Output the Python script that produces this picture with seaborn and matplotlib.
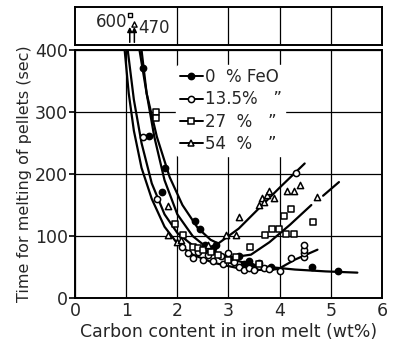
import numpy as np
import pandas as pd
import matplotlib
matplotlib.use("Agg")
import matplotlib.pyplot as plt
import seaborn as sns

# -------------------------------
# Data
# -------------------------------
feo_labels = ["0  % FeO", "13.5%   \u201d", "27  %   \u201d", "54  %   \u201d"]

# measured points (carbon wt%, melting time s)
c0_x = [1.33, 1.44, 1.70, 1.75, 2.35, 2.45, 2.55, 2.70, 2.75, 3.05, 3.20, 3.30, 3.40, 3.45, 3.55, 3.60, 3.83, 4.64, 5.15]
c0_y = [371, 262, 171, 210, 125, 112, 85, 80, 86, 62, 68, 55, 60, 52, 50, 56, 50, 50, 44]

c13_x = [1.33, 1.60, 2.10, 2.20, 2.30, 2.40, 2.50, 2.60, 2.70, 2.85, 2.90, 3.00, 3.10, 3.20, 3.30, 3.40, 3.50, 3.60, 3.70, 3.80, 4.01, 4.22, 4.48, 4.48, 4.48, 4.48, 4.32]
c13_y = [260, 160, 82, 72, 65, 75, 62, 70, 60, 68, 55, 72, 58, 50, 45, 48, 45, 52, 48, 47, 44, 64, 67, 72, 78, 86, 202]

c27_x = [1.58, 1.58, 1.96, 2.12, 2.30, 2.40, 2.50, 2.65, 2.79, 3.00, 3.15, 3.42, 3.71, 3.86, 3.99, 4.12, 4.28, 4.09, 4.22, 4.66, 3.60]
c27_y = [300, 290, 119, 101, 82, 80, 78, 75, 70, 62, 66, 82, 101, 112, 112, 103, 103, 132, 143, 122, 55]

c54_x = [1.81, 1.81, 1.99, 2.07, 2.60, 2.95, 3.14, 3.20, 3.60, 3.66, 3.70, 3.76, 3.79, 3.89, 4.14, 4.29, 4.39, 4.74]
c54_y = [149, 101, 90, 93, 85, 101, 101, 130, 150, 161, 155, 166, 173, 161, 172, 172, 183, 163]

# off-scale values shown in the top strip
off_x = [1.07, 1.16]
off_y = [600, 470]

# hand-drawn curves, read as points along each line
k0_x = [1.30, 1.40, 1.55, 1.75, 2.00, 2.30, 2.60, 3.00, 3.40, 3.80, 4.30, 4.90, 5.52]
k0_y = [400, 330, 260, 190, 135, 100, 80, 64, 55, 50, 46, 43, 41]

k13_x = [0.97, 1.05, 1.15, 1.30, 1.50, 1.75, 2.00, 2.30, 2.70, 3.20, 3.70, 4.00]
k13_y = [400, 330, 270, 210, 160, 115, 88, 70, 57, 48, 45, 47]
k13b_x = [4.00, 4.30, 4.74]
k13b_y = [48, 62, 78]

k27_x = [1.03, 1.15, 1.30, 1.50, 1.75, 2.00, 2.30, 2.70, 3.10, 3.44, 3.80, 4.20, 4.62]
k27_y = [400, 320, 250, 185, 135, 105, 85, 72, 66, 70, 90, 118, 150]
k27b_x = [4.85, 5.16]
k27b_y = [165, 187]

k54_x = [1.26, 1.40, 1.60, 1.85, 2.10, 2.40, 2.65, 2.80, 3.20, 3.60, 4.00, 4.49]
k54_y = [400, 330, 260, 195, 150, 113, 94, 88, 112, 145, 178, 217]

# -------------------------------
# Build tables
# -------------------------------
pts = pd.concat([
    pd.DataFrame({"C": c0_x, "t": c0_y, "FeO": feo_labels[0]}),
    pd.DataFrame({"C": c13_x, "t": c13_y, "FeO": feo_labels[1]}),
    pd.DataFrame({"C": c27_x, "t": c27_y, "FeO": feo_labels[2]}),
    pd.DataFrame({"C": c54_x, "t": c54_y, "FeO": feo_labels[3]}),
], ignore_index=True)

curves = [(k0_x, k0_y), (k13_x, k13_y), (k13b_x, k13b_y),
          (k27_x, k27_y), (k27b_x, k27b_y), (k54_x, k54_y)]

sns.set_style("white")
plt.rcParams['font.family'] = ['DejaVu Sans']

fig = plt.figure(figsize=(3.97, 3.47), dpi=100)
ax = fig.add_axes([0.189, 0.141, 0.773, 0.715])
top = fig.add_axes([0.189, 0.870, 0.773, 0.110])

# curves
for cx, cy in curves:
    sns.lineplot(x=cx, y=cy, ax=ax, color="black", lw=1.6, sort=False,
                 estimator=None, legend=False, zorder=3)

# points
marker_map = {feo_labels[0]: "o", feo_labels[1]: "o", feo_labels[2]: "s", feo_labels[3]: "^"}
face_map = {feo_labels[0]: "black", feo_labels[1]: "white", feo_labels[2]: "white", feo_labels[3]: "white"}
for lab in feo_labels:
    sub = pts[pts["FeO"] == lab]
    sns.scatterplot(data=sub, x="C", y="t", ax=ax, marker=marker_map[lab],
                    s=20, facecolor=face_map[lab], edgecolor="black",
                    linewidth=1.1, zorder=4, legend=False)

ax.set_xlim(0, 6)
ax.set_ylim(0, 400)
ax.set_xticks(range(0, 7))
ax.set_yticks(range(0, 401, 100))
ax.grid(True, color="black", lw=0.9)
for s in ax.spines.values():
    s.set_color("black")
    s.set_linewidth(1.4)
ax.tick_params(axis="x", length=0, labelsize=12.5, pad=3)
ax.tick_params(axis="y", length=4, width=1.2, color="black", labelsize=12.5, pad=1, left=True)
ax.set_xlabel("Carbon content in iron melt (wt%)", fontsize=12.5, labelpad=2)
ax.set_ylabel("Time for melting of pellets (sec)", fontsize=11.5, labelpad=2)

# legend
handles = []
for lab in feo_labels:
    h, = ax.plot([], [], color="black", lw=1.4, marker=marker_map[lab], ms=4.5,
                 mfc=face_map[lab], mec="black", mew=1.1)
    handles.append(h)
leg = ax.legend(handles, feo_labels, loc="upper left", bbox_to_anchor=(0.33, 0.94),
                frameon=True, fontsize=12, handlelength=1.4, handletextpad=0.1,
                labelspacing=0.25, borderpad=0.2, borderaxespad=0)
leg.get_frame().set_edgecolor("white")
leg.get_frame().set_facecolor("white")
leg.get_frame().set_alpha(1)
leg.set_zorder(5)

# top strip with the off-scale values
top.set_xlim(0, 6)
top.set_ylim(0, 1)
top.set_xticks([2, 3, 4, 5])
top.set_yticks([])
top.grid(True, axis="x", color="black", lw=0.9)
top.tick_params(axis="x", length=0, labelbottom=False)
for s in top.spines.values():
    s.set_color("black")
    s.set_linewidth(1.4)
top.scatter(off_x[0], 0.78, marker="s", s=10, facecolor="white", edgecolor="black", lw=1, zorder=4)
top.scatter(off_x[1], 0.55, marker="^", s=14, facecolor="white", edgecolor="black", lw=1, zorder=4)
for xx in off_x:
    top.annotate("", xy=(xx, 0.55), xytext=(xx, 0.0),
                 arrowprops=dict(arrowstyle="-|>", color="black", lw=1.1, mutation_scale=7))
top.text(off_x[0] - 0.05, 0.6, str(off_y[0]), ha="right", va="center", fontsize=12)
top.text(off_x[1] + 0.08, 0.45, str(off_y[1]), ha="left", va="center", fontsize=12)

fig.savefig("out.png", dpi=100)
